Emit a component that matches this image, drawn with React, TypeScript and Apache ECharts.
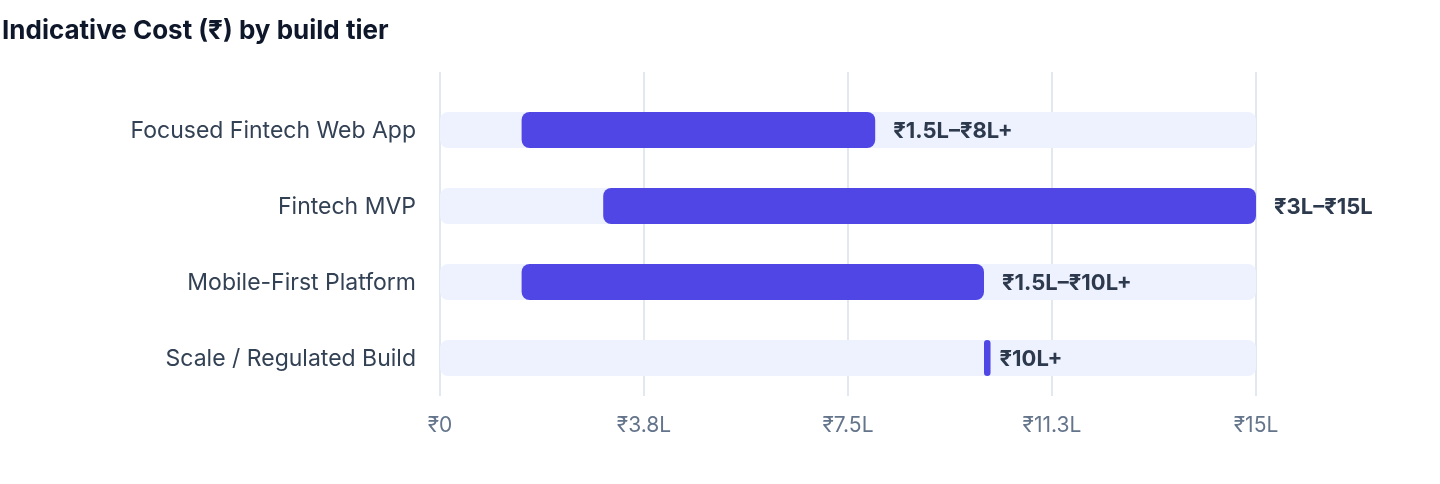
import React, { useEffect, useRef } from "react";
import * as echarts from "echarts";

const tiers = ["Focused Fintech Web App", "Fintech MVP", "Mobile-First Platform", "Scale / Regulated Build"];
// cost range in lakhs
const rangeStart = [1.5, 3, 1.5, 10];
const rangeEnd = [8, 15, 10, 10.12];
const rangeLabels = ["₹1.5L–₹8L+", "₹3L–₹15L", "₹1.5L–₹10L+", "₹10L+"];
const axisMax = 15;
const axisStep = 3.75;

const FONT = "Inter, 'Noto Sans', Roboto, sans-serif";

const fmtTick = (v: number) => {
  if (v === 0) return "₹0";
  return "₹" + v.toFixed(1).replace(/\.0$/, "") + "L";
};

const App: React.FC = () => {
  const chartRef = useRef<HTMLDivElement>(null);

  useEffect(() => {
    if (!chartRef.current) return;
    const myChart = echarts.init(chartRef.current, undefined, { renderer: "svg" });

    const option: echarts.EChartsOption = {
      animation: false,
      textStyle: { fontFamily: FONT },
      title: {
        text: "Indicative Cost (₹) by build tier",
        left: -3,
        top: 11,
        textStyle: { fontSize: 26, fontWeight: "bold", color: "#0f172a", fontFamily: FONT },
      },
      grid: [
        { left: 440, right: 184, top: 92, bottom: 88 },
        { left: 440, right: 184, top: 72, bottom: 88 },
      ],
      xAxis: [
        {
          type: "value",
          gridIndex: 0,
          min: 0,
          max: axisMax,
          interval: axisStep,
          axisLine: { show: false },
          axisTick: { show: false },
          splitLine: { show: false },
          axisLabel: { formatter: fmtTick, color: "#64748b", fontSize: 21, margin: 18, fontFamily: FONT },
        },
        {
          type: "value",
          gridIndex: 1,
          min: 0,
          max: axisMax,
          interval: axisStep,
          axisLine: { show: false },
          axisTick: { show: false },
          axisLabel: { show: false },
          splitLine: { show: true, lineStyle: { color: "#e2e8f0", width: 2 } },
        },
      ],
      yAxis: [
        {
          type: "category",
          gridIndex: 0,
          data: tiers,
          inverse: true,
          axisLine: { show: false },
          axisTick: { show: false },
          axisLabel: { color: "#334155", fontSize: 23, margin: 24, fontFamily: FONT },
        },
        {
          type: "value",
          gridIndex: 1,
          show: false,
          splitLine: { show: false },
        },
      ],
      series: [
        {
          type: "bar",
          xAxisIndex: 0,
          yAxisIndex: 0,
          data: tiers.map(() => axisMax),
          barWidth: 36,
          barGap: "-100%",
          itemStyle: { color: "#eef2ff", borderRadius: 8 },
          silent: true,
          z: 1,
        },
        {
          type: "bar",
          xAxisIndex: 0,
          yAxisIndex: 0,
          stack: "range",
          data: rangeStart,
          barWidth: 36,
          itemStyle: { color: "transparent" },
          silent: true,
          z: 2,
        },
        {
          type: "bar",
          xAxisIndex: 0,
          yAxisIndex: 0,
          stack: "range",
          data: rangeEnd.map((e, i) => ({
            value: +(e - rangeStart[i]).toFixed(2),
            label: i === 3 ? { distance: 9 } : undefined,
          })),
          barWidth: 36,
          itemStyle: { color: "#4f46e5", borderRadius: 8 },
          label: {
            show: true,
            position: "right",
            distance: 18,
            formatter: (p: any) => rangeLabels[p.dataIndex],
            color: "#2d3a4e",
            fontSize: 22,
            fontWeight: "bold",
            fontFamily: FONT,
          },
          z: 3,
        },
      ],
    };

    myChart.setOption(option);
    return () => {
      myChart.dispose();
    };
  }, []);

  return (
    <div
      ref={chartRef}
      style={{ position: "fixed", left: 0, top: 0, width: "1440px", height: "484px" }}
    />
  );
};

export default App;
